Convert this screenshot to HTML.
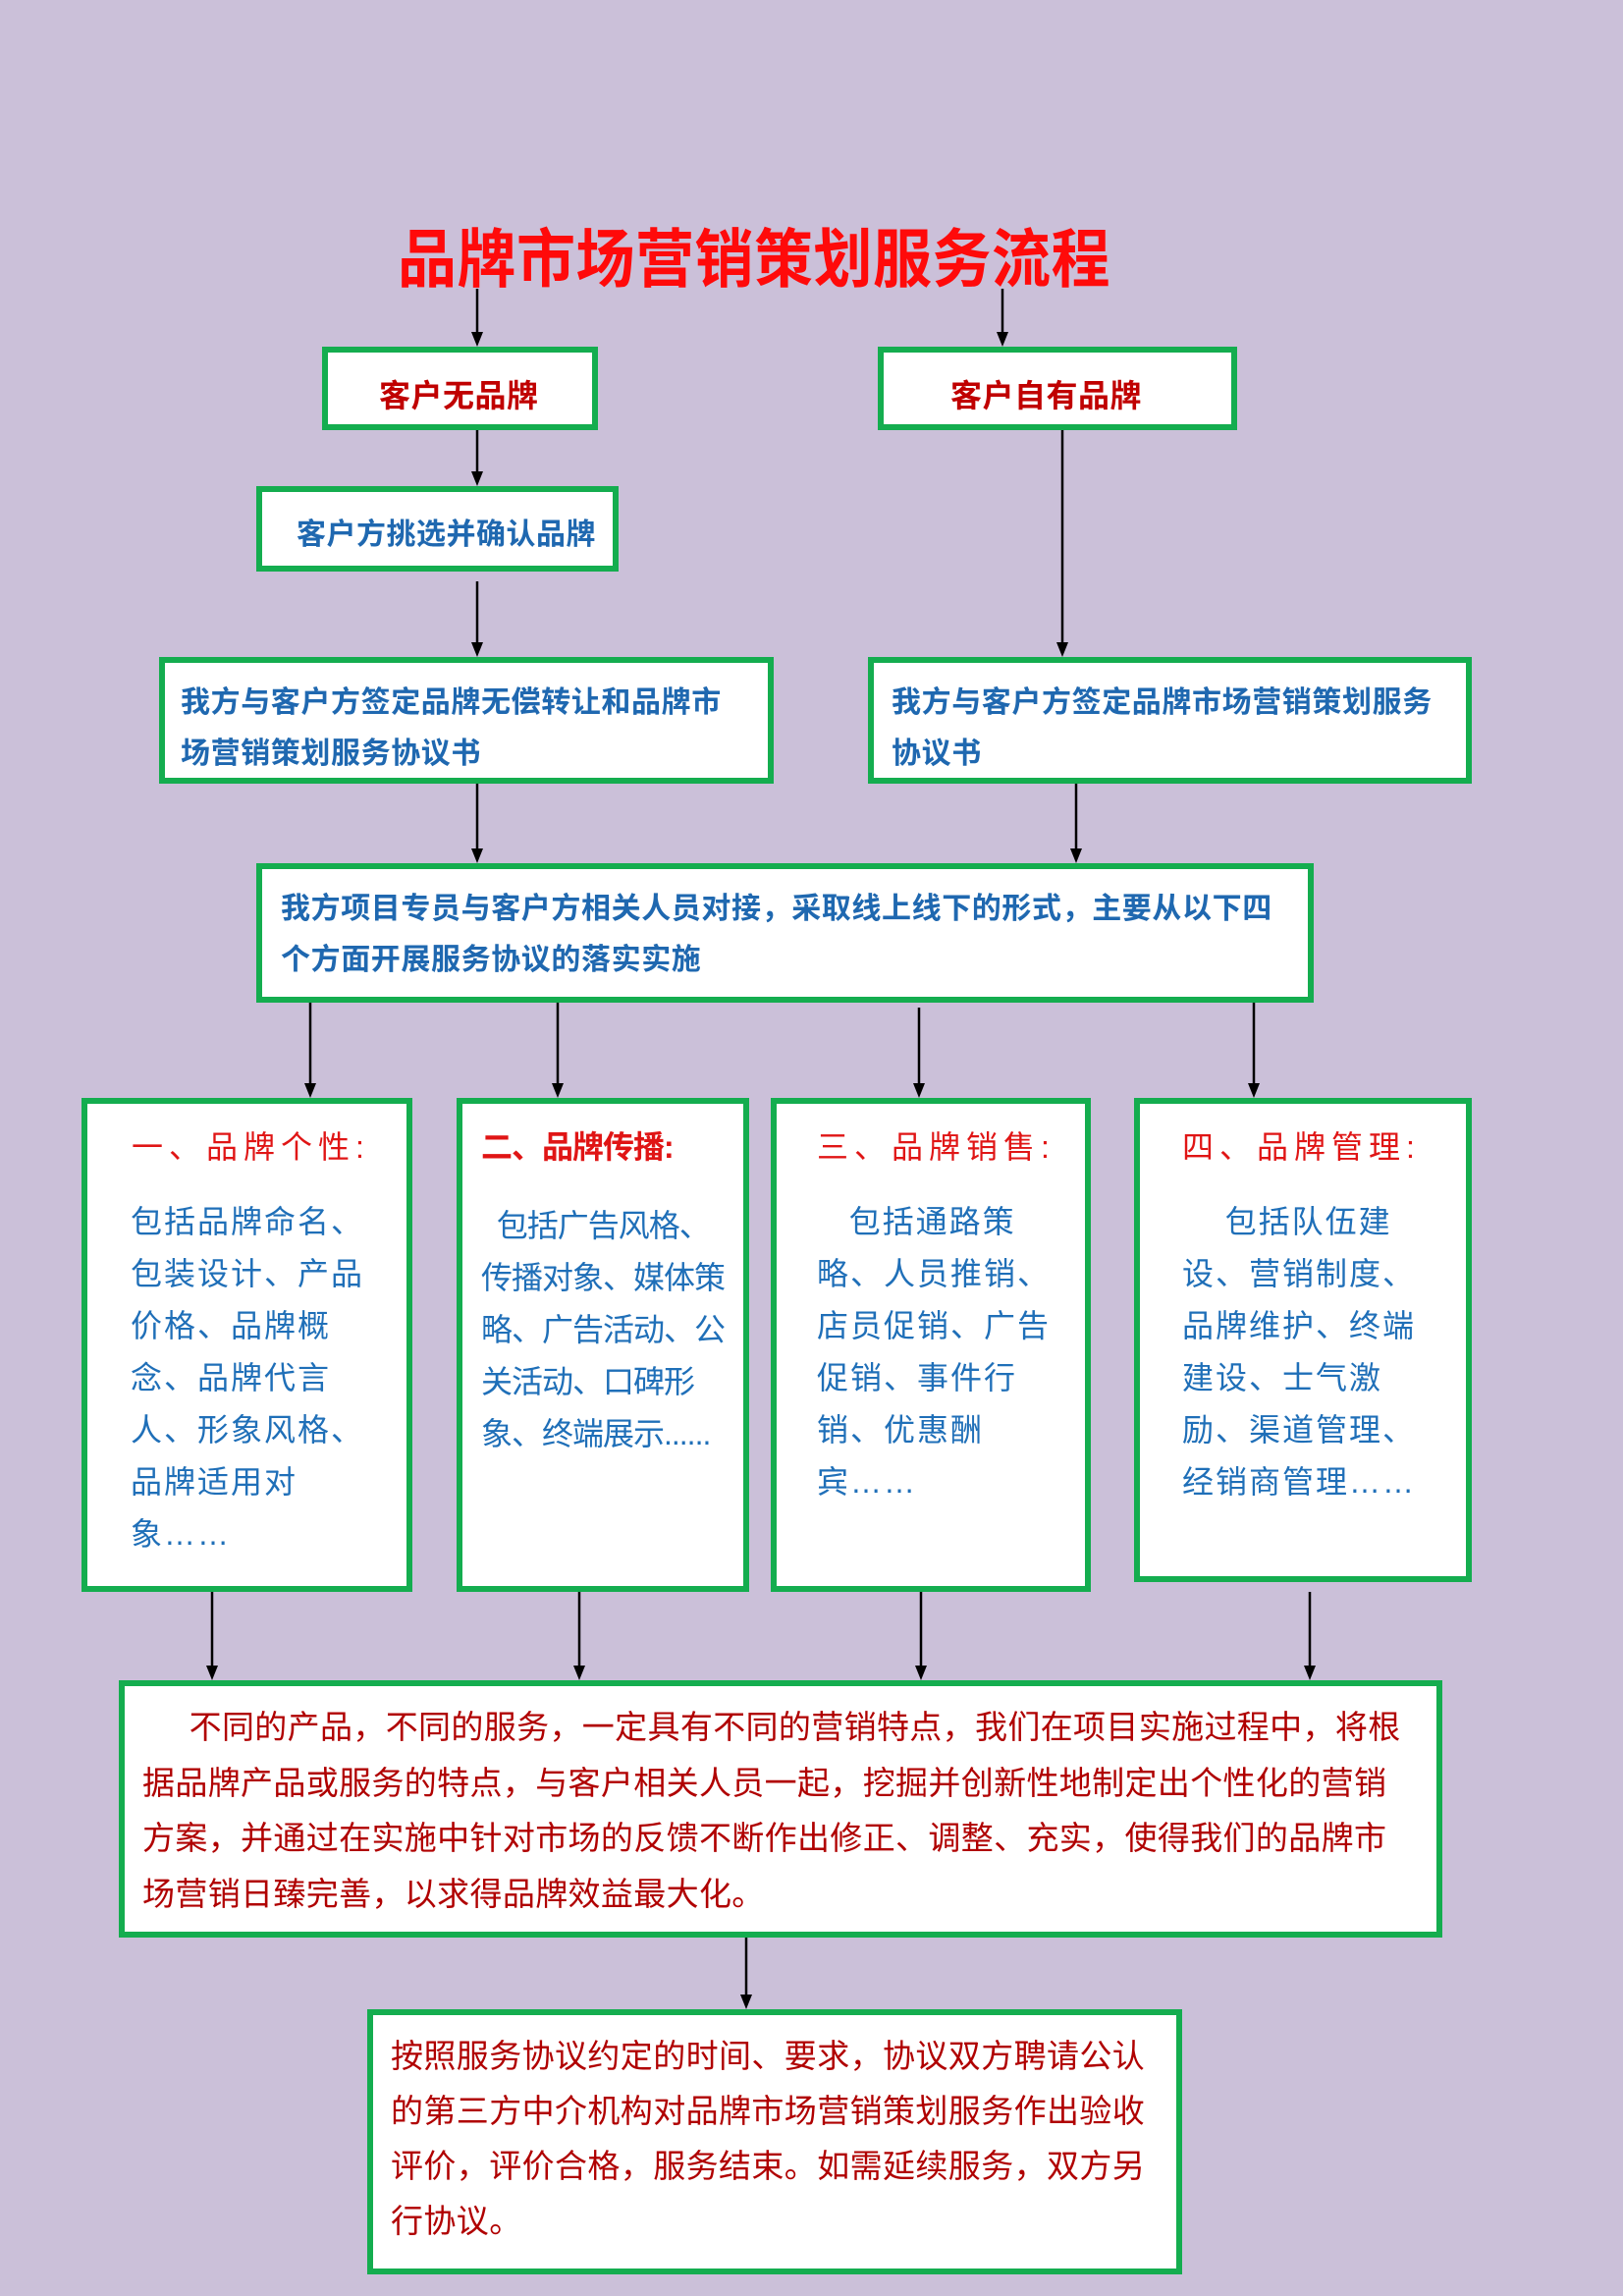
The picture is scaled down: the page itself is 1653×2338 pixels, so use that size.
<!DOCTYPE html>
<html><head><meta charset="utf-8"><style>
body{margin:0;width:1653px;height:2338px;background:#cbc0d9;position:relative;overflow:hidden;font-family:"Liberation Sans","Noto Sans CJK SC",sans-serif}
.b{position:absolute;box-sizing:border-box;border:6px solid #14ad4f;background:#fff}
.t{position:absolute;white-space:nowrap}
.red{color:#c00000;font-weight:bold}
.blue{color:#1f68b0;font-weight:bold}
.cb{color:#1f6fb8;font-size:32px;line-height:53px;letter-spacing:2px}
.ch{color:#e01515;font-size:32px;letter-spacing:6px}
.dr{color:#b00000;font-size:33px}
svg{position:absolute;left:0;top:0}
</style></head><body>
<div class="t" style="left:405px;top:212px;font-size:60px;font-weight:bold;color:#ff0a0a;letter-spacing:0.5px;transform:scaleY(1.08);transform-origin:left top">品牌市场营销策划服务流程</div>

<div class="b" style="left:328px;top:353px;width:281px;height:85px"></div>
<div class="t red" style="left:386px;top:378px;font-size:32px;letter-spacing:0.5px">客户无品牌</div>
<div class="b" style="left:894px;top:353px;width:366px;height:85px"></div>
<div class="t red" style="left:968px;top:378px;font-size:32px;letter-spacing:0.5px">客户自有品牌</div>

<div class="b" style="left:261px;top:495px;width:369px;height:87px"></div>
<div class="t blue" style="left:302px;top:519px;font-size:30px;letter-spacing:0.5px">客户方挑选并确认品牌</div>

<div class="b" style="left:162px;top:669px;width:626px;height:129px"></div>
<div class="t blue" style="left:184px;top:690px;font-size:30px;line-height:52px;letter-spacing:0.6px">我方与客户方签定品牌无偿转让和品牌市<br>场营销策划服务协议书</div>
<div class="b" style="left:884px;top:669px;width:615px;height:129px"></div>
<div class="t blue" style="left:908px;top:690px;font-size:30px;line-height:52px;letter-spacing:0.6px">我方与客户方签定品牌市场营销策划服务<br>协议书</div>

<div class="b" style="left:261px;top:879px;width:1077px;height:142px"></div>
<div class="t blue" style="left:286px;top:900px;font-size:30px;line-height:52px;letter-spacing:0.6px">我方项目专员与客户方相关人员对接，采取线上线下的形式，主要从以下四<br>个方面开展服务协议的落实实施</div>

<div class="b" style="left:83px;top:1118px;width:337px;height:503px"></div>
<div class="t ch" style="left:134px;top:1143px">一、品牌个性:</div>
<div class="t cb" style="left:133px;top:1218px">包括品牌命名、<br>包装设计、产品<br>价格、品牌概<br>念、品牌代言<br>人、形象风格、<br>品牌适用对<br>象……</div>

<div class="b" style="left:465px;top:1118px;width:298px;height:503px"></div>
<div class="t" style="left:490px;top:1143px;font-size:32px;font-weight:bold;color:#e01515;letter-spacing:-1px">二、品牌传播:</div>
<div class="t cb" style="left:490px;top:1222px;letter-spacing:-1px">&nbsp;&nbsp;包括广告风格、<br>传播对象、媒体策<br>略、广告活动、公<br>关活动、口碑形<br>象、终端展示......</div>

<div class="b" style="left:785px;top:1118px;width:326px;height:503px"></div>
<div class="t ch" style="left:832px;top:1143px">三、品牌销售:</div>
<div class="t cb" style="left:832px;top:1218px">&nbsp;&nbsp;&nbsp;包括通路策<br>略、人员推销、<br>店员促销、广告<br>促销、事件行<br>销、优惠酬<br>宾……</div>

<div class="b" style="left:1155px;top:1118px;width:344px;height:493px"></div>
<div class="t ch" style="left:1204px;top:1143px">四、品牌管理:</div>
<div class="t cb" style="left:1204px;top:1218px">&nbsp;&nbsp;&nbsp;&nbsp;包括队伍建<br>设、营销制度、<br>品牌维护、终端<br>建设、士气激<br>励、渠道管理、<br>经销商管理……</div>

<div class="b" style="left:121px;top:1711px;width:1348px;height:262px"></div>
<div class="t dr" style="left:145px;top:1731px;line-height:56.5px;letter-spacing:0.35px">&nbsp;&nbsp;&nbsp;&nbsp;&nbsp;不同的产品，不同的服务，一定具有不同的营销特点，我们在项目实施过程中，将根<br>据品牌产品或服务的特点，与客户相关人员一起，挖掘并创新性地制定出个性化的营销<br>方案，并通过在实施中针对市场的反馈不断作出修正、调整、充实，使得我们的品牌市<br>场营销日臻完善，以求得品牌效益最大化。</div>

<div class="b" style="left:374px;top:2046px;width:830px;height:270px"></div>
<div class="t dr" style="left:398px;top:2066px;line-height:56px;letter-spacing:0.4px">按照服务协议约定的时间、要求，协议双方聘请公认<br>的第三方中介机构对品牌市场营销策划服务作出验收<br>评价，评价合格，服务结束。如需延续服务，双方另<br>行协议。</div>

<svg width="1653" height="2338">
<g stroke="#000" stroke-width="2.5" fill="none">
<path d="M486 294 V340"/><path d="M1021 294 V340"/>
<path d="M486 438 V482"/><path d="M486 592 V656"/>
<path d="M1082 438 V656"/><path d="M486 798 V866"/><path d="M1096 798 V866"/>
<path d="M316 1021 V1105"/><path d="M568 1021 V1105"/><path d="M936 1026 V1105"/><path d="M1277 1021 V1105"/>
<path d="M216 1621 V1698"/><path d="M590 1621 V1698"/><path d="M938 1621 V1698"/><path d="M1334 1621 V1698"/>
<path d="M760 1973 V2033"/>
</g>
<g fill="#000">
<path d="M480 338 L492 338 L486 353 Z"/><path d="M1015 338 L1027 338 L1021 353 Z"/>
<path d="M480 480 L492 480 L486 495 Z"/><path d="M480 654 L492 654 L486 669 Z"/>
<path d="M1076 654 L1088 654 L1082 669 Z"/><path d="M480 864 L492 864 L486 879 Z"/><path d="M1090 864 L1102 864 L1096 879 Z"/>
<path d="M310 1103 L322 1103 L316 1118 Z"/><path d="M562 1103 L574 1103 L568 1118 Z"/><path d="M930 1103 L942 1103 L936 1118 Z"/><path d="M1271 1103 L1283 1103 L1277 1118 Z"/>
<path d="M210 1696 L222 1696 L216 1711 Z"/><path d="M584 1696 L596 1696 L590 1711 Z"/><path d="M932 1696 L944 1696 L938 1711 Z"/><path d="M1328 1696 L1340 1696 L1334 1711 Z"/>
<path d="M754 2031 L766 2031 L760 2046 Z"/>
</g>
</svg>
</body></html>
